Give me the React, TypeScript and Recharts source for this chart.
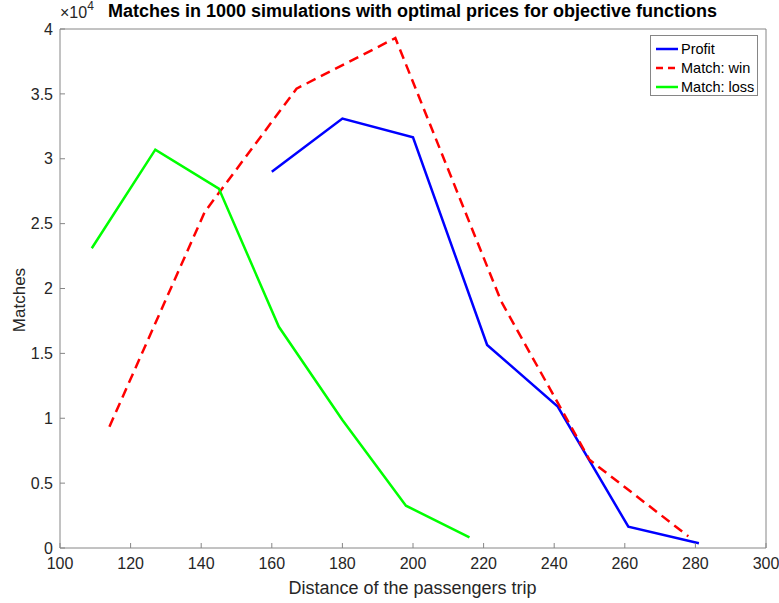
import { LineChart, Line, XAxis, YAxis } from 'recharts';

// distance of the trip (x) and number of matches (y) per objective
const profitDistance = [160, 180, 200, 221, 241, 261, 281];
const profitMatches = [29000, 33100, 31650, 15650, 10900, 1640, 360];

const winDistance = [114, 141, 167, 195, 225, 250, 278];
const winMatches = [9350, 25900, 35400, 39300, 19000, 6800, 900];

const lossDistance = [109, 127, 145, 162, 180, 198, 216];
const lossMatches = [23100, 30700, 27700, 17050, 9870, 3260, 820];

const xTicks = [100, 120, 140, 160, 180, 200, 220, 240, 260, 280, 300];
const yTicks = [0, 5000, 10000, 15000, 20000, 25000, 30000, 35000, 40000];

const seriesNames = ['Profit', 'Match: win', 'Match: loss'];

const toPoints = (xs: number[], ys: number[]) => xs.map((x, i) => ({ x, y: ys[i] }));

const FONT = '"Liberation Sans", Arial, Helvetica, sans-serif';
const AXIS_COLOR = '#868686';
const TEXT_COLOR = '#262626';

const tickStyle = { fontSize: 16, fill: TEXT_COLOR, fontFamily: FONT };
const noLabel = () => <g />;

const legendItems = [
    { name: seriesNames[0], color: '#0000ff', dash: undefined },
    { name: seriesNames[1], color: '#ff0000', dash: '7 5' },
    { name: seriesNames[2], color: '#00ff00', dash: undefined },
];

export default function App() {
    return (
        <div style={{ position: 'absolute', left: 0, top: 0, width: 779, height: 603, background: '#fff', fontFamily: FONT }}>
            <LineChart
                width={779}
                height={603}
                margin={{ top: 28, right: 12, bottom: 0, left: 0 }}
            >
                <XAxis
                    xAxisId="bottom"
                    type="number"
                    dataKey="x"
                    domain={[100, 300]}
                    ticks={xTicks}
                    allowDataOverflow
                    height={55}
                    tickSize={-5}
                    tickMargin={15}
                    stroke={AXIS_COLOR}
                    tick={tickStyle}
                    interval={0}
                />
                <XAxis
                    xAxisId="top"
                    orientation="top"
                    type="number"
                    dataKey="x"
                    domain={[100, 300]}
                    ticks={xTicks}
                    height={1}
                    tickSize={-5}
                    stroke={AXIS_COLOR}
                    tick={noLabel}
                    interval={0}
                />
                <YAxis
                    yAxisId="left"
                    type="number"
                    domain={[0, 40000]}
                    ticks={yTicks}
                    width={60}
                    tickSize={-5}
                    tickMargin={12}
                    stroke={AXIS_COLOR}
                    tick={tickStyle}
                    tickFormatter={(v: number) => String(v / 10000)}
                    interval={0}
                />
                <YAxis
                    yAxisId="right"
                    orientation="right"
                    type="number"
                    domain={[0, 40000]}
                    ticks={yTicks}
                    width={1}
                    tickSize={-5}
                    stroke={AXIS_COLOR}
                    tick={noLabel}
                    interval={0}
                />
                <Line
                    xAxisId="bottom"
                    yAxisId="left"
                    data={toPoints(profitDistance, profitMatches)}
                    dataKey="y"
                    name={seriesNames[0]}
                    stroke="#0000ff"
                    strokeWidth={2.5}
                    dot={false}
                    isAnimationActive={false}
                />
                <Line
                    xAxisId="bottom"
                    yAxisId="left"
                    data={toPoints(winDistance, winMatches)}
                    dataKey="y"
                    name={seriesNames[1]}
                    stroke="#ff0000"
                    strokeWidth={2.5}
                    strokeDasharray="10 6"
                    dot={false}
                    isAnimationActive={false}
                />
                <Line
                    xAxisId="bottom"
                    yAxisId="left"
                    data={toPoints(lossDistance, lossMatches)}
                    dataKey="y"
                    name={seriesNames[2]}
                    stroke="#00ff00"
                    strokeWidth={2.5}
                    dot={false}
                    isAnimationActive={false}
                />
            </LineChart>

            {/* title and exponent */}
            <div style={{ position: 'absolute', left: 0, width: 825, top: 1, textAlign: 'center', fontWeight: 'bold', fontSize: 18, color: '#000', whiteSpace: 'nowrap' }}>
                Matches in 1000 simulations with optimal prices for objective functions
            </div>
            <div style={{ position: 'absolute', left: 60, top: 4, fontSize: 16, color: TEXT_COLOR, whiteSpace: 'nowrap' }}>
                ×10<sup style={{ fontSize: 12, verticalAlign: 'top', position: 'relative', top: -5 }}>4</sup>
            </div>

            {/* axis labels */}
            <div style={{ position: 'absolute', left: 0, width: 825, top: 578, textAlign: 'center', fontSize: 18, color: TEXT_COLOR, whiteSpace: 'nowrap' }}>
                Distance of the passengers trip
            </div>
            <div style={{ position: 'absolute', left: 20, top: 300, transform: 'translate(-50%, -50%) rotate(-90deg)', fontSize: 17, color: TEXT_COLOR, whiteSpace: 'nowrap' }}>
                Matches
            </div>

            {/* legend */}
            <div style={{ position: 'absolute', left: 650, top: 35, width: 106, height: 59, border: `1px solid ${AXIS_COLOR}`, background: '#fff' }}>
                {legendItems.map((item, i) => (
                    <div key={item.name} style={{ position: 'absolute', left: 4, top: 3 + i * 19, height: 19, display: 'flex', alignItems: 'center' }}>
                        <svg width={24} height={10} style={{ marginRight: 2 }}>
                            <line x1={1} y1={5} x2={23} y2={5} stroke={item.color} strokeWidth={2.5} strokeDasharray={item.dash} />
                        </svg>
                        <span style={{ fontSize: 14.5, color: '#000', whiteSpace: 'nowrap' }}>{item.name}</span>
                    </div>
                ))}
            </div>
        </div>
    );
}
